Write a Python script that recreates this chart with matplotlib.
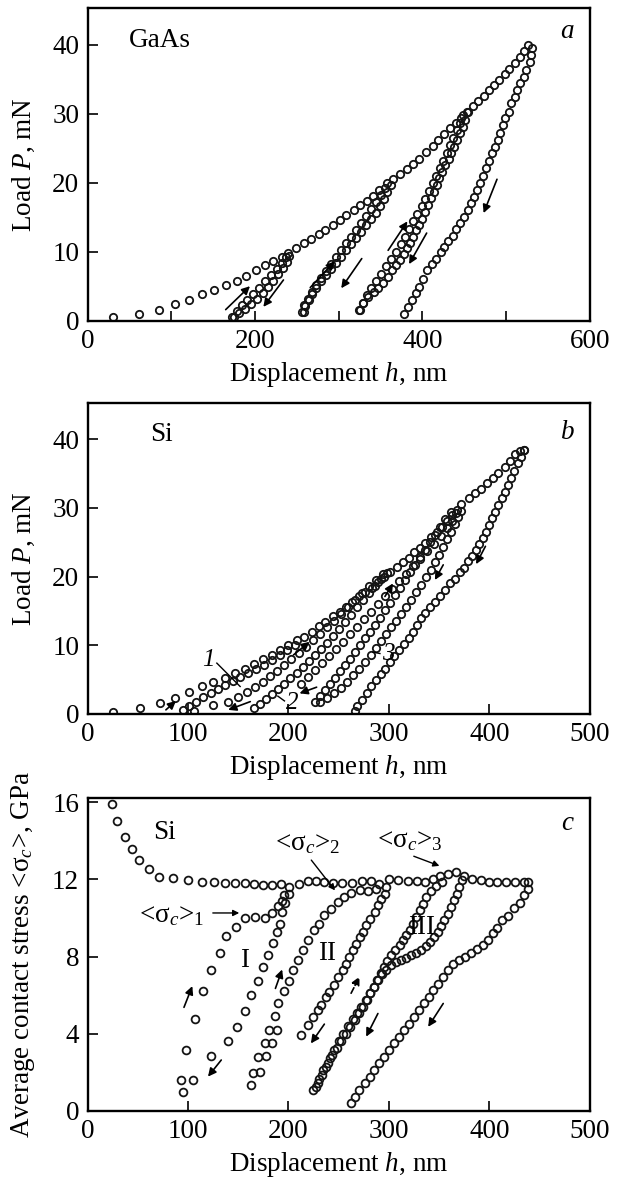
import matplotlib
matplotlib.use("Agg")
import matplotlib.pyplot as plt

plt.rcParams['font.family'] = ['Liberation Serif', 'DejaVu Serif']
plt.rcParams['mathtext.fontset'] = 'custom'
plt.rcParams['mathtext.rm'] = 'Liberation Serif'
plt.rcParams['mathtext.it'] = 'Liberation Serif:italic'
plt.rcParams['mathtext.bf'] = 'Liberation Serif:bold'

# ---------------- Panel a (GaAs) ----------------
a_load_h = [30.6, 61, 85, 105, 121, 137, 151, 165, 178, 189, 201, 212, 221, 232, 240, 249, 258, 267, 277, 284,
            293, 301, 309, 318, 326, 334, 341, 348, 358, 365, 373, 381, 389, 396, 404, 412, 419, 426, 433, 440,
            446, 454, 460, 466, 473, 479, 485, 491, 498, 503, 510, 516, 521, 526]
a_load_P = [0.5, 1.0, 1.6, 2.4, 3.0, 3.8, 4.5, 5.1, 5.8, 6.5, 7.3, 8.0, 8.6, 9.2, 9.8, 10.5, 11.2, 11.9, 12.5, 13.2,
            13.8, 14.6, 15.3, 16.0, 16.7, 17.4, 18.1, 19.0, 20.0, 20.6, 21.3, 22.0, 22.7, 23.5, 24.4, 25.3, 26.2, 27.0, 27.9, 28.7,
            29.4, 30.2, 31.1, 31.8, 32.6, 33.4, 34.1, 34.9, 35.7, 36.5, 37.3, 38.3, 39.1, 39.9]
a_un1_h = [241, 238, 233, 228, 222, 216, 209, 202, 195, 188, 181, 175]
a_un1_P = [9.4, 8.5, 7.6, 6.7, 5.8, 4.9, 4.0, 3.2, 2.4, 1.7, 1.1, 0.6]
a_re1_h = [172, 178, 184, 191, 198, 205, 212, 219, 226, 232, 237]
a_re1_P = [0.6, 1.4, 2.2, 3.0, 3.9, 4.8, 5.7, 6.6, 7.5, 8.4, 9.2]
a_un2_h = [362, 358, 354, 349, 344, 339, 333, 327, 321, 315, 309, 303, 297, 291, 285, 279, 273, 268, 264, 260, 258]
a_un2_P = [19.6, 18.6, 17.6, 16.6, 15.6, 14.7, 13.8, 12.9, 12.0, 11.1, 10.2, 9.3, 8.4, 7.5, 6.6, 5.7, 4.8, 3.9, 3.0, 2.1, 1.2]
a_re2_h = [256, 259, 263, 268, 273, 279, 285, 291, 297, 303, 309, 315, 321, 327, 333, 339, 345, 350, 355]
a_re2_P = [1.2, 2.2, 3.2, 4.2, 5.2, 6.2, 7.2, 8.2, 9.2, 10.2, 11.2, 12.2, 13.2, 14.2, 15.2, 16.2, 17.2, 18.2, 19.2]
a_un3_h = [453.6, 450.8, 448.5, 444.7, 441.4, 437.6, 434.4, 431.1, 427.3, 423.5, 420.2, 416.9, 413.2, 409.9, 406.1, 402.8,
           399.1, 395.3, 392.0, 388.7, 384.9, 381.6, 377.9, 373.2, 368.5, 363.8, 359.1, 352.9, 347.3, 341.6, 335.5, 329.4, 324.7]
a_un3_P = [30.2, 29.1, 28.1, 27.2, 26.2, 25.2, 24.3, 23.4, 22.5, 21.6, 20.7, 19.7, 18.7, 17.8, 16.8, 15.8,
           14.8, 13.9, 13.1, 12.2, 11.3, 10.5, 9.7, 8.8, 8.0, 7.3, 6.4, 5.5, 4.8, 4.1, 3.4, 2.5, 1.5]
a_re3_h = [325, 329, 334, 339, 345, 351, 357, 363, 368, 374, 379, 384, 389, 394, 399, 403, 408, 412, 416, 421, 425, 429,
           433, 437, 441, 445, 449]
a_re3_P = [1.5, 2.6, 3.7, 4.7, 5.8, 6.8, 7.9, 9.0, 10.0, 11.1, 12.2, 13.3, 14.4, 15.5, 16.6, 17.7, 18.8, 19.9, 21.0, 22.1,
           23.2, 24.3, 25.4, 26.5, 27.6, 28.7, 29.8]
a_un4_h = [531, 530, 528, 524, 521, 517, 513, 510, 506, 503, 499, 496, 492, 490, 487, 483, 479, 476, 472, 469, 465, 462,
           458, 454, 450, 445, 440, 436, 431, 426, 422, 416, 411, 406, 401, 396, 392, 387, 383, 378]
a_un4_P = [39.5, 38.5, 37.5, 36.4, 35.4, 34.4, 33.5, 32.5, 31.5, 30.3, 29.4, 28.4, 27.2, 26.2, 25.2, 24.3, 23.2, 22.1,
           21.0, 19.9, 19.0, 18.0, 17.0, 16.0, 15.0, 14.1, 13.3, 12.3, 11.6, 10.7, 9.9, 9.0, 8.2, 7.3, 6.1, 4.9, 4.0, 3.0, 2.0, 1.0]
a_arrows = [((165, 1.6), (194, 5.0)), ((234, 5.9), (210, 2.0)), ((266, 4.8), (295, 8.6)),
            ((327.5, 9.0), (303, 4.7)), ((359, 10.2), (382, 14.4)), ((405, 12.7), (384, 8.2)),
            ((489, 20.5), (473, 15.6))]

# ---------------- Panel b (Si, load) ----------------
b_load_h = [25.5, 52, 72, 87, 101, 114, 125, 137, 147, 157, 166, 175, 184, 192, 200, 208, 215, 223, 230, 236, 244, 251,
            257, 263, 270, 276, 283, 289, 295, 301, 308, 314, 320, 325, 331, 336, 342, 348, 353, 358, 363, 368, 372, 380,
            386, 392, 398, 404, 409, 415, 420, 425, 430, 434.5]
b_load_P = [0.34, 0.8, 1.6, 2.3, 3.2, 4.0, 4.6, 5.3, 5.9, 6.5, 7.3, 8.0, 8.6, 9.3, 10.0, 10.7, 11.2, 12.0, 12.8, 13.4,
            14.2, 14.9, 15.6, 16.3, 17.2, 17.8, 18.4, 19.2, 20.0, 20.7, 21.4, 22.1, 22.7, 23.5, 24.2, 24.9, 25.7, 26.5,
            27.2, 28.1, 28.9, 29.7, 30.5, 31.4, 32.1, 32.8, 33.6, 34.3, 35.1, 36.0, 36.8, 37.8, 38.2, 38.4]
b_s1_h = [95, 101, 108, 115, 123, 130, 137, 145, 152, 160, 168, 176, 184, 192, 199, 206]
b_s1_P = [0.6, 1.2, 1.8, 2.4, 3.0, 3.6, 4.2, 4.8, 5.4, 6.0, 6.6, 7.2, 7.9, 8.6, 9.3, 10.0]
b_s2_h = [106, 125, 140, 150, 159, 167, 175, 182, 189, 196, 203, 210, 217, 224, 231, 238, 245, 252, 259, 266, 273, 280, 287, 294]
b_s2_P = [0.5, 1.3, 1.8, 2.5, 3.2, 3.9, 4.7, 5.5, 6.3, 7.1, 8.0, 8.9, 9.8, 10.7, 11.6, 12.6, 13.6, 14.6, 15.6, 16.6,
          17.6, 18.6, 19.5, 20.3]
b_s3_h = [166, 172, 178, 184, 190, 196, 202, 208, 214, 220, 226, 232, 238, 244, 250, 256, 262, 268, 274, 280, 286, 292, 298]
b_s3_P = [0.8, 1.5, 2.2, 2.9, 3.6, 4.4, 5.2, 6.0, 6.8, 7.7, 8.6, 9.5, 10.4, 11.4, 12.4, 13.4, 14.4, 15.5, 16.6, 17.6,
          18.6, 19.6, 20.5]
b_s4_h = [212, 219, 226, 233, 240, 247, 254, 261, 268, 275, 282, 289, 296, 303, 310, 317, 324, 331, 338, 345, 352, 358, 363, 367]
b_s4_P = [4.4, 5.4, 6.4, 7.4, 8.4, 9.4, 10.5, 11.6, 12.7, 13.8, 14.9, 16.0, 17.1, 18.2, 19.3, 20.4, 21.5, 22.6, 23.7,
          24.8, 25.9, 27.0, 28.1, 29.2]
b_s5_h = [226, 231, 236, 241, 246, 251, 256, 261, 266, 271, 276, 281, 286, 291, 296, 301, 306, 311, 316, 321, 326, 331,
          336, 341, 346, 351, 356, 362]
b_s5_P = [1.8, 2.6, 3.5, 4.4, 5.3, 6.2, 7.1, 8.0, 9.0, 10.0, 11.0, 12.0, 13.0, 14.0, 15.1, 16.2, 17.3, 18.4, 19.5,
          20.6, 21.7, 22.8, 23.9, 25.0, 26.1, 27.2, 28.3, 29.4]
b_s6_h = [372, 369, 366, 362, 358, 354, 350, 346, 342, 337, 332, 327, 322, 317, 312, 307, 302, 297, 292, 287, 282, 276,
          270, 264, 258, 252, 245, 238, 231]
b_s6_P = [29.6, 28.6, 27.6, 26.5, 25.4, 24.3, 23.2, 22.1, 21.0, 19.9, 18.8, 17.7, 16.6, 15.6, 14.6, 13.6, 12.6, 11.6,
          10.6, 9.6, 8.6, 7.6, 6.6, 5.6, 4.7, 3.8, 3.0, 2.3, 1.8]
b_un_h = [434.5, 431, 428, 424, 421, 418, 415, 412, 409, 406, 403, 400, 397, 394, 390, 387, 383, 379, 375, 371, 366, 361,
          356, 351, 346, 341, 336, 332, 328, 324, 320, 315, 310, 305, 301, 296, 292, 287, 282, 278, 273, 268, 266]
b_un_P = [38.4, 37.4, 36.5, 35.4, 34.3, 33.3, 32.3, 31.4, 30.4, 29.4, 28.5, 27.5, 26.5, 25.6, 24.7, 23.9, 23.0, 22.2,
          21.3, 20.6, 19.7, 19.0, 18.0, 17.2, 16.3, 15.6, 14.7, 13.9, 12.9, 12.0, 11.0, 10.2, 9.3, 8.4, 7.6, 6.6, 5.8,
          4.9, 4.1, 3.0, 2.0, 1.1, 0.5]
b_arrows = [((78, 0.6), (88, 1.9)), ((162, 1.8), (140, 0.6)), ((205, 8.6), (221, 10.5)),
            ((228, 3.9), (211, 3.0)), ((296, 17.1), (304, 19.0)), ((354, 21.7), (345.7, 19.5)),
            ((396, 24.4), (386.7, 21.8))]
b_labels = ['1', '2', '3']
b_label_pos = [(120, 7.85), (204, 1.55), (299, 8.8)]
b_leaders = [((128.7, 7.4), (151.9, 4.0)), ((189.4, 2.6), (196, 1.9)), ((284, 9.0), (291, 8.8))]

# ---------------- Panel c (Si, stress) ----------------
c_plat_h = [24.7, 29.8, 37.6, 44.3, 51.4, 60.8, 71, 85.5, 100.4, 113.7, 125.5, 136.5, 147, 157, 166, 175, 183.5, 193,
            201, 210, 219, 227, 235, 244, 253, 263, 273, 282, 290, 300, 309, 319, 328, 336, 344, 351, 359, 367, 375,
            383, 392, 400, 408, 416, 425, 434, 438]
c_plat_s = [15.9, 15.0, 14.2, 13.6, 13.0, 12.55, 12.1, 12.05, 11.95, 11.85, 11.85, 11.8, 11.8, 11.8, 11.75, 11.7, 11.7,
            11.75, 11.6, 11.75, 11.9, 11.9, 11.85, 11.8, 11.8, 11.8, 11.9, 11.9, 11.75, 12.0, 11.95, 11.9, 11.9, 11.85,
            12.0, 12.2, 12.3, 12.4, 12.15, 12.0, 11.95, 11.85, 11.85, 11.85, 11.85, 11.85, 11.85]
c_reI_h = [95, 93.4, 97.7, 107.3, 115, 123.2, 132.1, 138.1, 147.4, 157, 167, 176.5, 183.5, 189.4, 193.3, 196]
c_reI_s = [1.0, 1.6, 3.15, 4.74, 6.23, 7.33, 8.21, 9.07, 9.53, 10.0, 10.05, 10.0, 10.25, 10.6, 10.9, 11.2]
c_unI_h = [201, 196.9, 193.7, 192, 188.7, 184.4, 179.5, 174.5, 169.5, 162.9, 156.3, 148.7, 139.7, 122.5, 105]
c_unI_s = [11.25, 10.8, 10.3, 9.71, 9.28, 8.7, 8.1, 7.46, 6.72, 6.0, 5.2, 4.36, 3.64, 2.85, 1.6]
c_reIIa_h = [162.9, 164.6, 169.5, 176.2, 180.5, 186.1, 189.4, 195.4, 200.3, 204, 209, 214, 219, 225.7, 230.7, 235.7,
             242.3, 249, 255.7, 262.3, 270.7, 279, 287.3]
c_reIIa_s = [1.35, 1.95, 2.81, 3.5, 4.2, 4.92, 5.58, 6.23, 6.73, 7.3, 7.8, 8.33, 8.85, 9.36, 9.71, 10.14, 10.48,
             10.83, 11.09, 11.3, 11.43, 11.4, 11.52]
c_reIIb_h = [171.2, 177.2, 183.8, 188.7]
c_reIIb_s = [2.03, 2.85, 3.5, 4.19]
c_unII_h = [297.3, 295.7, 292.3, 289, 285.7, 280.7, 277.3, 274, 270.7, 267.3, 264, 260.7, 257.3, 254, 249, 245.7,
            240.7, 237.3, 232.3, 229, 224, 219, 212.3]
c_unII_s = [11.6, 11.26, 11.0, 10.66, 10.3, 9.97, 9.62, 9.28, 9.02, 8.67, 8.33, 7.98, 7.64, 7.3, 6.95, 6.52, 6.18,
            5.92, 5.49, 5.23, 4.88, 4.45, 3.94]
c_reIII_h = [224, 227.3, 230.7, 234.7, 239, 243.3, 248, 252.3, 257.3, 261.3, 265.7, 270, 274, 278, 281.3, 284.7, 288.3,
             291.7, 295, 298.3, 302.3, 306.3, 310.7, 314, 317.3, 320.7, 324, 327.3, 330.7, 334, 337.3, 342.3, 347.3, 352.3]
c_reIII_s = [1.08, 1.25, 1.68, 2.12, 2.5, 2.9, 3.24, 3.64, 4.0, 4.37, 4.71, 5.06, 5.4, 5.75, 6.1, 6.44, 6.78, 7.13,
             7.47, 7.78, 8.07, 8.33, 8.59, 8.85, 9.1, 9.4, 9.71, 10.05, 10.4, 10.74, 11.09, 11.4, 11.64, 11.86]
c_unIII_h = [372.3, 370, 367.3, 364.7, 361.7, 358.3, 355, 351.7, 348.3, 344.7, 340.7, 336.7, 332.3, 327.3, 322.3, 317.3,
             312.3, 307.3, 302.3, 297.3, 293, 289, 284.7, 280.7, 276.7, 272.3, 268, 264, 259, 254.7, 250, 245.7, 241.7,
             237.3, 233.3, 229]
c_unIII_s = [11.95, 11.6, 11.26, 10.92, 10.57, 10.23, 9.88, 9.57, 9.28, 9.02, 8.76, 8.54, 8.33, 8.2, 8.07, 7.95, 7.84,
             7.73, 7.55, 7.33, 7.1, 6.78, 6.44, 6.1, 5.75, 5.4, 5.09, 4.74, 4.4, 4.0, 3.6, 3.15, 2.72, 2.3, 1.86, 1.43]
c_un_h = [438.4, 434.5, 430.6, 424.7, 418.8, 412.9, 407.8, 403.1, 398.4, 393.3, 387.5, 381.6, 375.7, 369.8, 364, 359.2,
          354.1, 349, 344.3, 339.6, 334.5, 329.4, 324.7, 320, 314.9, 309.8, 305, 300.4, 295.3, 290.2, 285.5, 280.8,
          275.7, 270.6, 265.9, 262]
c_un_s = [11.5, 11.2, 10.8, 10.5, 10.1, 9.9, 9.5, 9.2, 8.85, 8.6, 8.4, 8.2, 8.0, 7.8, 7.6, 7.3, 6.95, 6.6, 6.26, 5.9,
          5.57, 5.22, 4.88, 4.53, 4.19, 3.84, 3.5, 3.16, 2.81, 2.47, 2.12, 1.78, 1.43, 1.09, 0.74, 0.4]
c_arrows = [((96, 5.37), (104.3, 6.47)), ((133.1, 2.64), (119.9, 1.78)), ((187, 6.35), (193.7, 7.33)),
            ((235.7, 4.5), (222.3, 3.5)), ((289, 5.05), (277.3, 3.85)), ((354, 5.57), (339, 4.36))]
c_dashed_arrow = ((262.3, 6.1), (270.7, 6.96))
c_roman = ['I', 'II', 'III']
c_roman_pos = [(156, 7.8), (238, 8.15), (332, 9.5)]
c_sig_text = [r'<σ${}_{c}$>${}_{1}$', r'<σ${}_{c}$>${}_{2}$', r'<σ${}_{c}$>${}_{3}$']
c_sig_pos = [(84, 10.1), (219, 13.85), (321, 14.0)]
c_sig_arrows = [((124.7, 10.26), (151, 10.26)), ((222.7, 13.0), (246.3, 11.43)), ((324.7, 13.2), (350.2, 12.7))]

# ---------------- Figure ----------------
W, H = 618, 1178
fig = plt.figure(figsize=(W / 100, H / 100), dpi=100)
left, width = 0.1416, 0.813
axa = fig.add_axes([left, 0.7278, width, 0.2652])
axb = fig.add_axes([left, 0.3939, width, 0.2637])
axc = fig.add_axes([left, 0.0569, width, 0.2654])

FS = 19.5
mk = dict(ls='none', marker='o', mfc='none', mec='#141414', ms=5.3, mew=1.3)


def style(ax):
    for s in ax.spines.values():
        s.set_linewidth(1.7)
    ax.tick_params(which='both', direction='in', length=7, width=1.2, labelsize=FS, pad=6,
                   top=False, right=False)
    ax.xaxis.set_label_coords(0.5, -0.125)


def arrow(ax, tail, head, ls='-'):
    ax.annotate('', xy=head, xytext=tail,
                arrowprops=dict(arrowstyle='-|>', lw=1.2, color='k', ls=ls,
                                mutation_scale=12, shrinkA=0, shrinkB=0))


# panel a
for hh, pp in [(a_load_h, a_load_P), (a_un1_h, a_un1_P), (a_re1_h, a_re1_P), (a_un2_h, a_un2_P),
               (a_re2_h, a_re2_P), (a_un3_h, a_un3_P), (a_re3_h, a_re3_P), (a_un4_h, a_un4_P)]:
    axa.plot(hh, pp, **mk)
for t, hd in a_arrows:
    arrow(axa, t, hd)
axa.set_xlim(0, 600)
axa.set_ylim(0, 45.3)
axa.set_xticks([0, 200, 400, 600])
axa.set_xticks([100, 300, 500], minor=True)
axa.set_yticks([0, 10, 20, 30, 40])
style(axa)
axa.set_xlabel(r'Displacement $h$, nm', fontsize=FS)
axa.set_ylabel(r'Load $P$, mN', fontsize=FS)
axa.yaxis.set_label_coords(-0.1, 0.5)
axa.text(0.083, 0.897, 'GaAs', transform=axa.transAxes, fontsize=FS, ha='left', va='center')
axa.text(0.955, 0.925, 'a', transform=axa.transAxes, fontsize=FS, style='italic', ha='center', va='center')

# panel b
for hh, pp in [(b_load_h, b_load_P), (b_s1_h, b_s1_P), (b_s2_h, b_s2_P), (b_s3_h, b_s3_P),
               (b_s4_h, b_s4_P), (b_s5_h, b_s5_P), (b_s6_h, b_s6_P), (b_un_h, b_un_P)]:
    axb.plot(hh, pp, **mk)
for t, hd in b_arrows:
    arrow(axb, t, hd)
for lab, pos, (p1, p2) in zip(b_labels, b_label_pos, b_leaders):
    axb.text(pos[0], pos[1], lab, fontsize=18, style='italic', ha='center', va='center')
    axb.plot([p1[0], p2[0]], [p1[1], p2[1]], color='k', lw=1.0)
axb.set_xlim(0, 500)
axb.set_ylim(0, 45.2)
axb.set_xticks([0, 100, 200, 300, 400, 500])
axb.set_yticks([0, 10, 20, 30, 40])
style(axb)
axb.set_xlabel(r'Displacement $h$, nm', fontsize=FS)
axb.set_ylabel(r'Load $P$, mN', fontsize=FS)
axb.yaxis.set_label_coords(-0.1, 0.5)
axb.text(0.125, 0.9, 'Si', transform=axb.transAxes, fontsize=FS, ha='left', va='center')
axb.text(0.955, 0.907, 'b', transform=axb.transAxes, fontsize=FS, style='italic', ha='center', va='center')

# panel c
for hh, ss in [(c_plat_h, c_plat_s), (c_reI_h, c_reI_s), (c_unI_h, c_unI_s), (c_reIIa_h, c_reIIa_s),
               (c_reIIb_h, c_reIIb_s), (c_unII_h, c_unII_s), (c_reIII_h, c_reIII_s), (c_unIII_h, c_unIII_s),
               (c_un_h, c_un_s)]:
    axc.plot(hh, ss, **dict(mk, ms=5.6))
for t, hd in c_arrows:
    arrow(axc, t, hd)
arrow(axc, c_dashed_arrow[0], c_dashed_arrow[1], ls='--')
for lab, pos in zip(c_roman, c_roman_pos):
    axc.text(pos[0], pos[1], lab, fontsize=FS, ha='center', va='center')
for lab, pos in zip(c_sig_text, c_sig_pos):
    axc.text(pos[0], pos[1], lab, fontsize=FS, ha='center', va='center')
for t, hd in c_sig_arrows:
    axc.annotate('', xy=hd, xytext=t,
                 arrowprops=dict(arrowstyle='-|>', lw=1.0, color='k', mutation_scale=9, shrinkA=0, shrinkB=0))
axc.set_xlim(0, 500)
axc.set_ylim(0, 16.2)
axc.set_xticks([0, 100, 200, 300, 400, 500])
axc.set_yticks([0, 4, 8, 12, 16])
style(axc)
axc.set_xlabel(r'Displacement $h$, nm', fontsize=FS)
axc.set_ylabel(r'Average contact stress <σ${}_{c}$>, GPa', fontsize=FS)
axc.yaxis.set_label_coords(-0.1, 0.5)
axc.text(0.13, 0.89, 'Si', transform=axc.transAxes, fontsize=FS, ha='left', va='center')
axc.text(0.955, 0.92, 'c', transform=axc.transAxes, fontsize=FS, style='italic', ha='center', va='center')

fig.savefig('out.png', dpi=100)
